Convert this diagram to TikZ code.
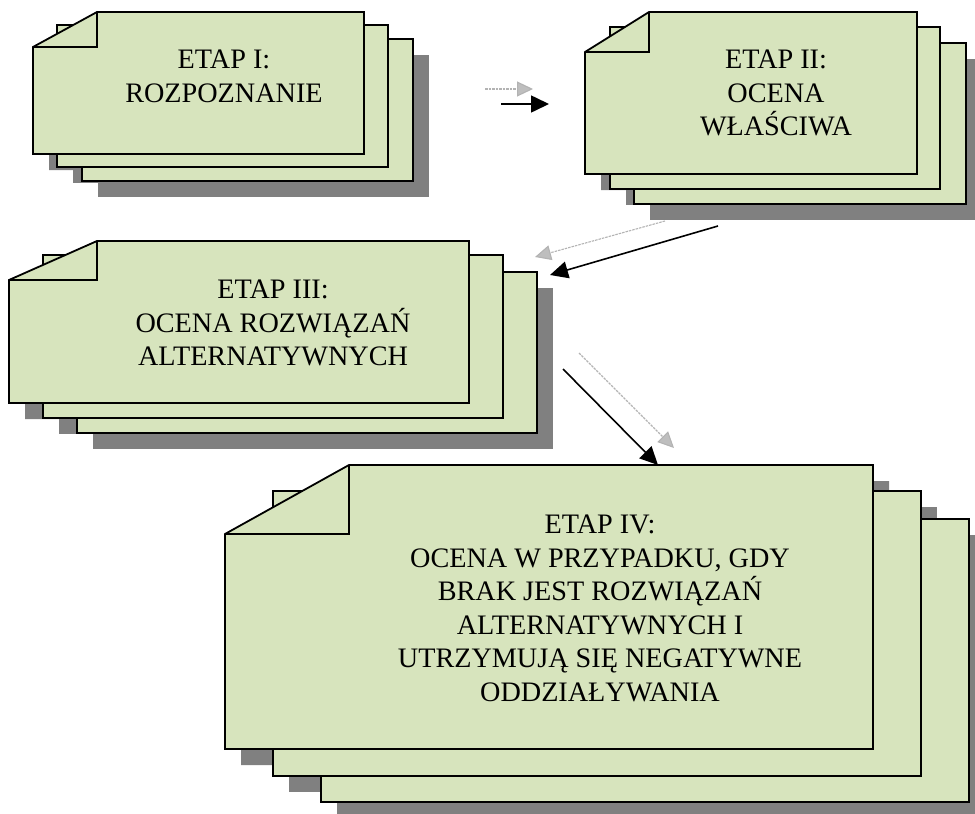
\documentclass[tikz,border=0pt]{standalone}
\usepackage{fontspec}
\setmainfont{Liberation Serif}
\usetikzlibrary{arrows.meta}
\definecolor{sheetgreen}{HTML}{D7E4BD}
\definecolor{shadowgray}{HTML}{808080}
\definecolor{ghostgray}{HTML}{B3B3B3}
\tikzset{
  sheet/.style={fill=sheetgreen, draw=black, line width=1.8pt, line join=miter},
  foldline/.style={draw=black, line width=1.8pt, line join=miter},
  sheetshadow/.style={fill=shadowgray, shift={(16,16)}},
  stagelabel/.style={align=center, anchor=north, inner sep=0pt, font=\fontsize{28.2}{33.5}\selectfont},
  mainarrow/.style={draw=black, line width=1.6pt, -{Triangle[length=18pt,width=17pt]}},
  ghostarrow/.style={draw=ghostgray, line width=1.1pt, dash pattern=on 2.5pt off 1pt,
     -{Triangle[length=16pt,width=15pt,fill=ghostgray!85]}},
}
% back sheet: x1 y1 x2 y2
\newcommand{\stackback}[4]{\draw[sheet] (#1,#2) rectangle (#3,#4);}
\newcommand{\stackbackshadow}[4]{\fill[sheetshadow] (#1,#2) rectangle (#3,#4);}
% front sheet: x1 y1 x2 y2 xfold yfold
\newcommand{\stackfront}[6]{%
  \draw[sheet] (#1,#6) -- (#5,#2) -- (#3,#2) -- (#3,#4) -- (#1,#4) -- cycle;
  \draw[foldline] (#5,#2) -- (#5,#6) -- (#1,#6);}
\newcommand{\stackfrontshadow}[6]{%
  \fill[sheetshadow] (#1,#6) -- (#5,#2) -- (#3,#2) -- (#3,#4) -- (#1,#4) -- cycle;}
\begin{document}
\begin{tikzpicture}[x=1pt, y=-1pt]
\useasboundingbox (0,0) rectangle (975,814);

% ---------- Stage I ----------
\stackbackshadow{82}{39}{413}{181}
\stackbackshadow{57}{25}{388}{167}
\stackfrontshadow{33}{12}{364}{154}{97}{47}
\stackback{82}{39}{413}{181}
\stackback{57}{25}{388}{167}
\stackfront{33}{12}{364}{154}{97}{47}
\node[stagelabel] (s1) at (224,50) {ETAP I:\\ROZPOZNANIE};

% ---------- Stage II ----------
\stackbackshadow{634}{43}{966}{204}
\stackbackshadow{610}{27}{940}{189}
\stackfrontshadow{585}{12}{917}{174}{649}{52}
\stackback{634}{43}{966}{204}
\stackback{610}{27}{940}{189}
\stackfront{585}{12}{917}{174}{649}{52}
\node[stagelabel] (s2) at (776,50) {ETAP II:\\OCENA\\WŁAŚCIWA};

% ---------- Stage III ----------
\stackbackshadow{77}{272}{537}{433}
\stackbackshadow{43}{255}{503}{418}
\stackfrontshadow{9}{241}{469}{403}{97}{280}
\stackback{77}{272}{537}{433}
\stackback{43}{255}{503}{418}
\stackfront{9}{241}{469}{403}{97}{280}
\node[stagelabel] (s3) at (273,280) {ETAP III:\\OCENA ROZWIĄZAŃ\\ALTERNATYWNYCH};

% ---------- Stage IV ----------
\stackbackshadow{321}{519}{969}{802}
\stackbackshadow{273}{491}{921}{776}
\stackfrontshadow{225}{465}{873}{749}{349}{534}
\stackback{321}{519}{969}{802}
\stackback{273}{491}{921}{776}
\stackfront{225}{465}{873}{749}{349}{534}
\node[stagelabel] (s4) at (600,515) {ETAP IV:\\OCENA W PRZYPADKU, GDY\\BRAK JEST ROZWIĄZAŃ\\ALTERNATYWNYCH I\\UTRZYMUJĄ SIĘ NEGATYWNE\\ODDZIAŁYWANIA};

% ---------- Connectors ----------
\coordinate (g1s) at (485,89);  \coordinate (g1e) at (533,89);
\coordinate (a1s) at (501,104); \coordinate (a1e) at (549,104);
\coordinate (g2s) at (665,221); \coordinate (g2e) at (535,257);
\coordinate (a2s) at (718,226); \coordinate (a2e) at (550,275);
\coordinate (g3s) at (579,353); \coordinate (g3e) at (674,448);
\coordinate (a3s) at (563,369); \coordinate (a3e) at (658,465);

\draw[ghostarrow] (g1s) -- (g1e);
\draw[mainarrow] (a1s) -- (a1e);
\draw[ghostarrow] (g2s) -- (g2e);
\draw[mainarrow] (a2s) -- (a2e);
\draw[ghostarrow] (g3s) -- (g3e);
\draw[mainarrow] (a3s) -- (a3e);
\end{tikzpicture}
\end{document}
